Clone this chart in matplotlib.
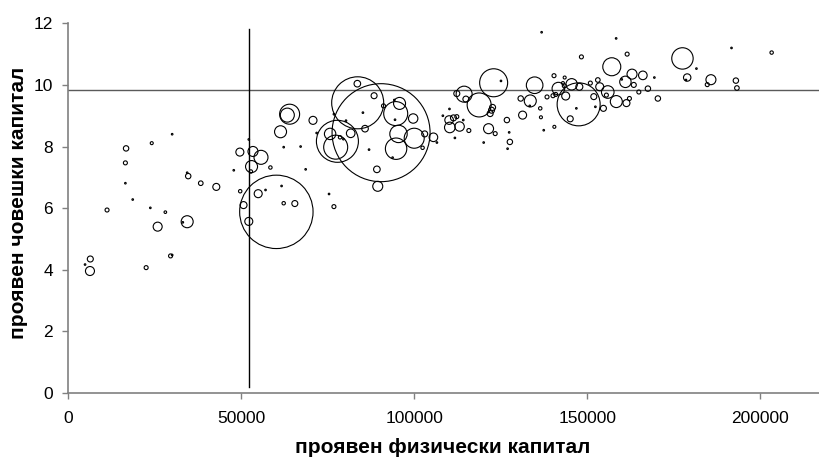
#bubble chart: physical vs human capital, bubble area ~ size

import numpy as np
import matplotlib.pyplot as plt

plt.rcParams['font.family'] = ['Liberation Sans', 'DejaVu Sans']

#physical capital (x), human capital (y), bubble radius (px)
phys = [4840, 6360, 6260, 11200, 16700, 16500, 16500, 18620, 22500, 23710,
        24120, 25830, 28050, 29560, 30020, 30020, 33100, 34360, 34660, 34360,
        38290, 42780, 47830, 49590, 49690, 50650, 52170, 52170, 52770, 52970,
        53380, 54890, 55700, 57010, 58420, 60140, 61650, 62260, 65480, 61350,
        62260, 63310, 63970, 67150, 68610, 70730, 71790, 75370, 76780,
        83650, 83550, 88390, 85160, 91110, 90410, 95750, 94240, 94640, 94440,
        99690, 95450, 99990, 94750, 93740, 103020, 105540, 102410, 106550, 89200,
        89450, 86930, 77790, 75680, 77290, 81630, 85770, 78550, 79510, 80270,
        76780,
        122950, 125070, 134800, 114420, 112300, 114930, 118760, 122640, 122340, 121940,
        121480, 123400, 126780, 127440, 127640, 126980, 120070, 110080, 111340, 112300,
        113110, 110280, 110180, 108270, 114170, 115780, 111750, 130770, 133540, 133390,
        131320, 136420, 136620, 137430, 140500, 140400, 138380,
        147520, 157100, 143480, 141660, 145500, 143380, 142980, 140100, 140910, 143780,
        147720, 151900, 152360, 154680, 146860, 145090, 150900, 153070, 153620, 155940,
        155540, 158410, 161340, 162200, 162950, 161040, 163460, 159980, 166080, 167540,
        164920, 169410, 170420,
        158360, 161540, 177530, 181570, 178900, 178540, 185760, 184700, 191710, 192970,
        193270, 203310, 136820, 148320]
human = [4.17, 4.35, 3.96, 5.94, 7.94, 7.47, 6.81, 6.28, 4.07, 6.01,
         8.11, 5.40, 5.87, 4.45, 4.48, 8.40, 5.54, 5.56, 7.04, 7.15,
         6.81, 6.69, 7.23, 7.82, 6.55, 6.10, 8.23, 5.57, 7.19, 7.35,
         7.84, 6.47, 7.65, 6.59, 7.32, 5.88, 6.72, 6.16, 6.15, 8.48,
         7.98, 9.02, 9.05, 8.00, 7.26, 8.85, 8.44, 6.46, 6.05,
         9.42, 10.04, 9.65, 9.10, 9.32, 8.45, 9.40, 9.51, 9.07, 8.87,
         8.91, 8.41, 8.27, 7.93, 7.64, 8.41, 8.30, 7.96, 8.13, 7.26,
         6.71, 7.90, 8.17, 8.41, 7.98, 8.43, 8.58, 8.30, 8.24, 8.84,
         9.05,
         10.07, 10.13, 9.99, 9.70, 9.72, 9.54, 9.35, 9.27, 9.18, 9.07,
         8.58, 8.42, 8.86, 8.46, 8.15, 7.93, 8.13, 8.86, 8.93, 8.97,
         8.65, 8.62, 9.22, 9.00, 8.86, 8.52, 8.28, 9.56, 9.48, 9.32,
         9.02, 9.24, 8.95, 8.53, 8.64, 10.30, 9.61,
         9.37, 10.59, 10.24, 9.88, 10.02, 9.97, 10.06, 9.65, 9.69, 9.64,
         9.94, 9.62, 9.29, 9.24, 9.24, 8.90, 10.06, 10.16, 9.94, 9.77,
         9.67, 9.46, 9.41, 9.56, 10.35, 10.10, 10.00, 10.18, 10.31, 9.88,
         9.77, 10.24, 9.56,
         11.51, 11.00, 10.86, 10.53, 10.24, 10.16, 10.17, 10.01, 11.20, 10.14,
         9.90, 11.05, 11.71, 10.91]
radius = [0.8, 3, 4.5, 2, 2.7, 2, 0.8, 0.8, 2, 0.8,
          1.5, 4.5, 1.3, 2, 0.8, 0.8, 0.8, 6, 2.7, 0.8,
          2.3, 3.5, 0.8, 4, 1.7, 3.5, 0.8, 4, 1.7, 6,
          5, 4, 7, 0.8, 1.7, 36.7, 0.8, 1.7, 3, 6,
          0.8, 7, 10, 0.8, 0.8, 4, 0.8, 0.8, 2,
          26, 3.3, 3, 0.8, 2, 49, 6, 0.8, 12, 0.8,
          4.7, 8.7, 10, 10.7, 0.8, 3, 4.3, 1.7, 0.8, 3.3,
          5, 0.8, 21, 5.7, 12, 4.3, 3.3, 1.7, 0.8, 0.8,
          0.8,
          14, 0.8, 8.3, 8, 3, 3, 12, 3, 3, 3,
          5, 2, 2.7, 0.8, 2.7, 0.8, 0.8, 4.3, 3, 2,
          4.7, 5.3, 0.8, 0.8, 0.8, 2, 0.8, 2.7, 6, 0.8,
          4, 1.7, 1.5, 0.8, 1.5, 2, 2,
          21.5, 9, 1.5, 6.3, 5.7, 2, 1.5, 2, 2, 4,
          3.5, 3, 0.8, 3, 0.8, 3, 2, 2.3, 4, 6.3,
          2, 6, 3.5, 2, 5, 5.7, 2.5, 0.8, 4.3, 2.7,
          2, 0.8, 2.7,
          0.8, 2, 10.7, 0.8, 3.7, 0.8, 5, 2, 0.8, 2.7,
          2.3, 1.7, 0.8, 2]

#reference lines
avg_phys = 52100
avg_human = 9.83

fig = plt.figure(figsize=(8.19, 4.57), dpi=100)
ax = fig.add_axes([0.0834, 0.140, 0.9166, 0.809])

r = np.array(radius)
ax.scatter(phys, human, s=(1.44*r)**2, facecolors='none', edgecolors='black',
           linewidths=0.8, zorder=3)

ax.axhline(avg_human, color='#5a5a5a', lw=1.0, zorder=2)
ax.plot([avg_phys, avg_phys], [0.2, 11.8], color='black', lw=1.0, zorder=2)

ax.set_xlim(0, 217000)
ax.set_ylim(0, 12)
ax.set_xticks([0, 50000, 100000, 150000, 200000])
ax.set_yticks(range(0, 13, 2))
for s in ['top', 'right']:
    ax.spines[s].set_visible(False)
for s in ['left', 'bottom']:
    ax.spines[s].set_color('#808080')
    ax.spines[s].set_linewidth(1.2)
ax.tick_params(direction='out', length=4.5, width=1, color='#808080',
               labelsize=12.5)
ax.tick_params(axis='x', pad=8.5)
ax.tick_params(axis='y', pad=6.5)

fig.text(0.5408, 0.0077, 'проявен физически капитал', fontsize=15,
         fontweight='bold', ha='center', va='baseline')
fig.text(0.022, 0.557, 'проявен човешки капитал', fontsize=15,
         fontweight='bold', ha='center', va='center', rotation=90)

plt.savefig('out.png')
